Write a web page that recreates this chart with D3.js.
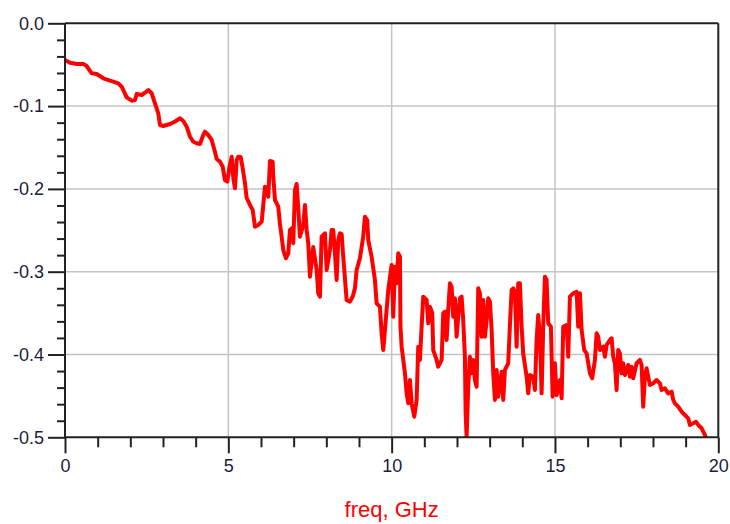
<!DOCTYPE html>
<html><head><meta charset="utf-8">
<script src="https://cdn.jsdelivr.net/npm/d3@7"></script>
<style>body{margin:0;background:#fff;}svg{display:block;}</style>
</head><body><svg id="chart" width="730" height="524"></svg>
<script>
const freq = [0,0.153,0.358,0.560,0.664,0.817,0.970,1.172,1.377,1.478,1.631,1.736,1.889,2.042,2.143,2.195,2.348,2.449,2.550,2.654,2.755,2.856,2.908,3.009,3.214,3.367,3.520,3.621,3.725,3.826,3.927,4.031,4.132,4.233,4.285,4.386,4.490,4.592,4.644,4.744,4.827,4.897,4.968,5.029,5.103,5.152,5.204,5.256,5.305,5.378,5.439,5.510,5.562,5.663,5.746,5.816,5.917,6.021,6.070,6.122,6.174,6.223,6.275,6.357,6.376,6.428,6.529,6.581,6.633,6.682,6.765,6.835,6.887,6.939,6.988,7.040,7.092,7.141,7.193,7.294,7.346,7.398,7.447,7.499,7.600,7.704,7.753,7.805,7.857,7.958,8.010,8.111,8.163,8.212,8.264,8.316,8.365,8.417,8.469,8.518,8.622,8.723,8.815,8.877,8.928,9.029,9.130,9.182,9.253,9.283,9.387,9.488,9.540,9.641,9.693,9.743,9.795,9.896,10.000,10.049,10.101,10.153,10.202,10.254,10.270,10.306,10.407,10.459,10.508,10.560,10.612,10.692,10.765,10.814,10.866,10.918,10.967,11.071,11.120,11.172,11.243,11.273,11.377,11.426,11.530,11.579,11.631,11.683,11.732,11.784,11.836,11.885,11.937,11.989,12.038,12.090,12.142,12.191,12.243,12.265,12.295,12.344,12.396,12.448,12.497,12.549,12.601,12.651,12.703,12.755,12.804,12.856,12.908,12.957,13.009,13.061,13.110,13.162,13.214,13.263,13.367,13.416,13.468,13.569,13.621,13.673,13.722,13.774,13.826,13.875,13.927,13.979,14.028,14.132,14.181,14.233,14.334,14.386,14.438,14.487,14.539,14.591,14.640,14.692,14.744,14.793,14.876,14.928,14.998,15.050,15.152,15.204,15.253,15.357,15.406,15.458,15.559,15.663,15.712,15.764,15.816,15.895,15.969,16.070,16.140,16.223,16.275,16.324,16.376,16.477,16.529,16.581,16.682,16.734,16.783,16.835,16.887,16.936,16.988,17.040,17.089,17.141,17.242,17.294,17.346,17.395,17.499,17.600,17.652,17.701,17.753,17.805,17.854,17.906,18.007,18.111,18.212,18.264,18.365,18.466,18.570,18.620,18.672,18.773,18.877,18.978,19.079,19.131,19.232,19.315,19.385,19.489,19.590,19.620];
const s21 = [-0.0443,-0.0476,-0.0492,-0.0492,-0.0516,-0.0604,-0.0612,-0.0664,-0.0693,-0.0705,-0.0725,-0.0766,-0.0894,-0.0935,-0.0926,-0.0854,-0.0866,-0.0838,-0.0806,-0.0845,-0.0966,-0.1087,-0.1228,-0.1240,-0.1216,-0.1188,-0.1147,-0.1180,-0.1249,-0.1370,-0.1430,-0.1449,-0.1458,-0.1349,-0.1309,-0.1349,-0.1409,-0.1554,-0.1639,-0.1671,-0.1732,-0.1893,-0.1913,-0.1751,-0.1611,-0.1868,-0.1993,-0.1651,-0.1611,-0.1615,-0.1747,-0.1932,-0.2110,-0.2194,-0.2255,-0.2457,-0.2436,-0.2396,-0.2194,-0.1973,-0.2013,-0.2094,-0.1663,-0.1671,-0.1853,-0.2134,-0.2215,-0.2424,-0.2577,-0.2738,-0.2838,-0.2778,-0.2496,-0.2476,-0.2657,-0.2013,-0.1941,-0.2231,-0.2577,-0.2436,-0.2194,-0.2496,-0.2657,-0.3060,-0.2702,-0.2979,-0.3261,-0.3302,-0.2577,-0.2536,-0.2979,-0.2738,-0.2496,-0.2496,-0.2778,-0.3100,-0.2617,-0.2536,-0.2545,-0.2819,-0.3342,-0.3362,-0.3293,-0.3197,-0.2979,-0.2838,-0.2577,-0.2336,-0.2376,-0.2617,-0.2819,-0.3100,-0.3382,-0.3423,-0.3744,-0.3946,-0.3704,-0.3221,-0.2919,-0.3543,-0.2940,-0.3140,-0.2778,-0.2819,-0.3664,-0.3906,-0.4227,-0.4469,-0.4589,-0.4308,-0.4589,-0.4751,-0.4549,-0.3906,-0.4066,-0.3664,-0.3302,-0.3342,-0.3623,-0.3423,-0.3502,-0.3946,-0.4066,-0.4147,-0.4066,-0.3502,-0.3483,-0.3825,-0.3463,-0.3140,-0.3181,-0.3543,-0.3321,-0.3785,-0.3543,-0.3321,-0.3302,-0.3583,-0.4027,-0.4710,-0.5000,-0.4389,-0.4027,-0.4227,-0.4066,-0.4308,-0.4389,-0.3200,-0.3261,-0.3785,-0.3342,-0.3785,-0.3583,-0.3321,-0.3362,-0.3704,-0.4227,-0.4549,-0.4187,-0.4510,-0.4208,-0.4549,-0.4187,-0.4106,-0.3644,-0.3221,-0.3200,-0.3245,-0.3906,-0.3140,-0.3140,-0.3664,-0.3986,-0.4268,-0.4469,-0.4248,-0.4268,-0.4429,-0.3825,-0.3523,-0.3785,-0.4469,-0.3664,-0.3060,-0.3100,-0.3623,-0.3664,-0.4510,-0.4106,-0.4489,-0.4308,-0.4529,-0.3664,-0.3644,-0.4027,-0.3302,-0.3261,-0.3242,-0.3664,-0.3261,-0.3704,-0.3946,-0.3986,-0.4227,-0.4287,-0.4066,-0.3744,-0.3785,-0.3946,-0.3906,-0.4027,-0.3885,-0.3825,-0.3804,-0.4027,-0.4106,-0.4429,-0.3946,-0.3986,-0.4227,-0.4106,-0.4248,-0.4127,-0.4268,-0.4147,-0.4287,-0.4106,-0.4066,-0.4127,-0.4630,-0.4268,-0.4167,-0.4268,-0.4368,-0.4348,-0.4308,-0.4348,-0.4429,-0.4408,-0.4469,-0.4449,-0.4549,-0.4589,-0.4630,-0.4691,-0.4731,-0.4771,-0.4851,-0.4831,-0.4812,-0.4851,-0.4891,-0.4972,-0.5000];
const xTicks = [0,5,10,15,20];
const xTickLabels = ["0","5","10","15","20"];
const yTicks = [0,-0.1,-0.2,-0.3,-0.4,-0.5];
const yTickLabels = ["0.0","-0.1","-0.2","-0.3","-0.4","-0.5"];
const xLabel = "freq, GHz";

const L = 65, R = 718.3, T = 23.3, B = 437.3;
const svg = d3.select("#chart");
const x = d3.scaleLinear().domain([0,20]).range([L,R]);
const y = d3.scaleLinear().domain([0,-0.5]).range([T,B]);

// grid
const grid = svg.append("g");
grid.selectAll("line.gx").data(xTicks.slice(1,-1)).join("line")
  .attr("x1",d=>x(d)).attr("x2",d=>x(d)).attr("y1",T).attr("y2",B)
  .attr("stroke","#c4c4c4").attr("stroke-width",1.5);
grid.selectAll("line.gy").data(yTicks.slice(1,-1)).join("line")
  .attr("y1",d=>y(d)).attr("y2",d=>y(d)).attr("x1",L).attr("x2",R)
  .attr("stroke","#c4c4c4").attr("stroke-width",1.5);

// data line
svg.append("clipPath").attr("id","clip").append("rect")
  .attr("x",L).attr("y",T).attr("width",R-L).attr("height",B-T);
const pts = freq.map((f,i)=>[f,s21[i]]);
svg.append("path").datum(pts)
  .attr("clip-path","url(#clip)")
  .attr("fill","none").attr("stroke","#ff0000").attr("stroke-width",4)
  .attr("stroke-linejoin","round")
  .attr("d",d3.line().x(d=>x(d[0])).y(d=>y(d[1])));

// frame
const ax = "#222";
svg.append("line").attr("x1",L).attr("x2",R).attr("y1",T).attr("y2",T).attr("stroke",ax).attr("stroke-width",2);
svg.append("line").attr("x1",R).attr("x2",R).attr("y1",T).attr("y2",B).attr("stroke",ax).attr("stroke-width",2);

// x axis
const xAxis = d3.axisBottom(x).tickValues(xTicks).tickFormat((d,i)=>xTickLabels[i]).tickSize(16).tickPadding(6);
const gx = svg.append("g").attr("transform",`translate(0,${B})`).call(xAxis);
gx.select(".domain").attr("stroke",ax).attr("stroke-width",2).attr("d",`M${L},0H${R}`);
gx.selectAll(".tick line").attr("stroke",ax).attr("stroke-width",2);
gx.selectAll(".tick text").attr("fill","#1c1c3a").attr("font-family","Liberation Sans, Arial, sans-serif").attr("font-size",18);
const xMinor = d3.range(0,20,1).filter(d=>d%5!==0);
const gxm = svg.append("g").attr("transform",`translate(0,${B})`)
  .call(d3.axisBottom(x).tickValues(xMinor).tickSize(10).tickFormat(""));
gxm.select(".domain").remove();
gxm.selectAll(".tick line").attr("stroke",ax).attr("stroke-width",2);

// y axis
const yAxis = d3.axisLeft(y).tickValues(yTicks).tickFormat((d,i)=>yTickLabels[i]).tickSize(17).tickPadding(4);
const gy = svg.append("g").attr("transform",`translate(${L},0)`).call(yAxis);
gy.select(".domain").attr("stroke",ax).attr("stroke-width",2).attr("d",`M0,${T}V${B}`);
gy.selectAll(".tick line").attr("stroke",ax).attr("stroke-width",2);
gy.selectAll(".tick text").attr("fill","#1c1c3a").attr("font-family","Liberation Sans, Arial, sans-serif").attr("font-size",18);
const yMinor = d3.range(1,25).map(i=>-i*0.02).filter((d,i)=>(i+1)%5!==0);
const gym = svg.append("g").attr("transform",`translate(${L},0)`)
  .call(d3.axisLeft(y).tickValues(yMinor).tickSize(8).tickFormat(""));
gym.select(".domain").remove();
gym.selectAll(".tick line").attr("stroke",ax).attr("stroke-width",2);

// x label
svg.append("text").attr("x",(L+R)/2).attr("y",517).attr("text-anchor","middle")
  .attr("fill","#ff0000").attr("font-family","Liberation Sans, Arial, sans-serif").attr("font-size",22)
  .text(xLabel);
</script></body></html>
